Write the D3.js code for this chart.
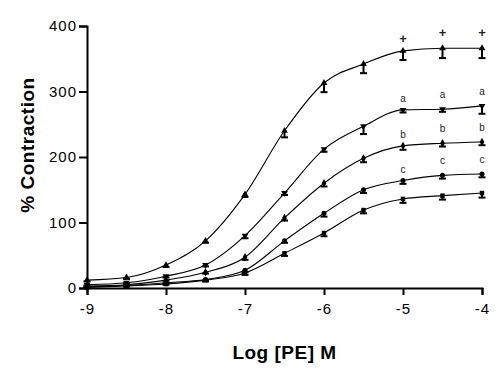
<!DOCTYPE html>
<html>
<head>
<meta charset="utf-8">
<script src="https://cdn.jsdelivr.net/npm/d3@7"></script>
<style>
  body { margin: 0; background: #fff; }
  svg { display: block; }
</style>
</head>
<body>
<div id="chart"></div>
<script>
const width = 500,
    height = 373
const margin = {top: 26, right: 18, bottom: 85, left: 87}

// log concentration of PE
const logDose = [-9, -8.5, -8, -7.5, -7, -6.5, -6, -5.5, -5, -4.5, -4]

// % contraction, mean values
const groupPlus = [12, 16, 35, 72, 143, 240, 313, 342, 362, 366, 366]
const groupA = [5, 8, 18, 35, 80, 145, 212, 247, 272, 273, 278]
const groupB = [3, 5, 12, 24, 47, 107, 160, 198, 217, 221, 223]
const groupC = [2, 4, 8, 13, 27, 72, 114, 150, 164, 172, 174]
const groupD = [1, 3, 6, 12, 23, 53, 84, 119, 136, 141, 145]

// error bars (drawn below the mean)
const semPlus = [2, 2, 3, 3, 4, 10, 14, 14, 14, 15, 15]
const semA = [1, 1, 2, 2, 4, 3, 4, 12, 4, 4, 12]
const semB = [1, 1, 1, 2, 4, 4, 5, 6, 6, 5, 5]
const semC = [1, 1, 1, 2, 3, 3, 5, 5, 5, 5, 5]
const semD = [1, 1, 1, 2, 3, 4, 5, 5, 6, 6, 7]

// significance letters above the last three doses
const letterDose = [-5, -4.5, -4]
const letters = ['+', 'a', 'b', 'c', '']

const xTicks = [-9, -8, -7, -6, -5, -4]
const yTicks = [0, 100, 200, 300, 400]

const series = [
    {mean: groupPlus, sem: semPlus, symbol: d3.symbolTriangle, letter: letters[0]},
    {mean: groupA, sem: semA, symbol: d3.symbolTriangle, flip: true, letter: letters[1]},
    {mean: groupB, sem: semB, symbol: d3.symbolDiamond, letter: letters[2]},
    {mean: groupC, sem: semC, symbol: d3.symbolCircle, letter: letters[3]},
    {mean: groupD, sem: semD, symbol: d3.symbolSquare, letter: letters[4]}
]

const svg = d3.select('#chart')
    .append('svg')
    .attr('width', width)
    .attr('height', height)
    .style('font-family', 'Liberation Sans, Arial, sans-serif')

const x = d3.scaleLinear()
    .domain([-9, -4])
    .range([margin.left, width - margin.right])

const y = d3.scaleLinear()
    .domain([0, 400])
    .range([height - margin.bottom, margin.top])

/**
 * 坐标轴
 */
const xAxis = svg.append('g')
    .attr('transform', 'translate(0,' + y(0) + ')')
    .call(d3.axisBottom(x).tickValues(xTicks).tickSize(7).tickFormat(d => String(d)))
xAxis.select('.domain').attr('stroke-width', 2)
xAxis.selectAll('.tick line').attr('stroke-width', 2)
xAxis.selectAll('text')
    .attr('font-size', 15)
    .attr('letter-spacing', 1)
    .attr('dy', '1.05em')
    .attr('fill', '#000')

const yAxis = svg.append('g')
    .attr('transform', 'translate(' + x(-9) + ',0)')
    .call(d3.axisLeft(y).tickValues(yTicks).tickSize(8).tickPadding(2))
yAxis.select('.domain').attr('stroke-width', 2)
yAxis.selectAll('.tick line').attr('stroke-width', 2)
yAxis.selectAll('text')
    .attr('font-size', 15)
    .attr('letter-spacing', 1)
    .attr('fill', '#000')

svg.append('text')
    .attr('x', x(-6.5))
    .attr('y', 359)
    .attr('text-anchor', 'middle')
    .attr('font-size', 19)
    .attr('font-weight', 'bold')
    .attr('letter-spacing', 0.5)
    .text('Log [PE] M')

svg.append('text')
    .attr('transform', 'translate(34,145) rotate(-90)')
    .attr('text-anchor', 'middle')
    .attr('font-size', 19)
    .attr('font-weight', 'bold')
    .attr('letter-spacing', 0.5)
    .text('% Contraction')

/**
 * 曲线 + 数据点
 */
const line = d3.line()
    .x(d => x(d[0]))
    .y(d => y(d[1]))
    .curve(d3.curveMonotoneX)

const groups = svg.append('g')
    .selectAll('g')
    .data(series)
    .enter().append('g')

groups.append('path')
    .attr('fill', 'none')
    .attr('stroke', '#000')
    .attr('stroke-width', 1.1)
    .attr('d', s => line(logDose.map((d, i) => [d, s.mean[i]])))

const bars = groups.selectAll('.err')
    .data(s => s.mean.map((m, i) => ({x: logDose[i], m: m, e: s.sem[i]})))
    .enter().append('g')
    .attr('class', 'err')
    .attr('stroke', '#000')
    .attr('stroke-width', 2)

bars.append('line')
    .attr('x1', d => x(d.x)).attr('x2', d => x(d.x))
    .attr('y1', d => y(d.m)).attr('y2', d => y(d.m - d.e))
bars.append('line')
    .attr('x1', d => x(d.x) - 3.5).attr('x2', d => x(d.x) + 3.5)
    .attr('y1', d => y(d.m - d.e)).attr('y2', d => y(d.m - d.e))

groups.selectAll('.pt')
    .data(s => s.mean.map((m, i) => ({x: logDose[i], m: m, s: s})))
    .enter().append('path')
    .attr('class', 'pt')
    .attr('fill', '#000')
    .attr('d', d => d3.symbol().type(d.s.symbol).size(20)())
    .attr('transform', d => 'translate(' + x(d.x) + ',' + y(d.m) + ')' + (d.s.flip ? ' rotate(180)' : ''))

// letters
groups.selectAll('.lbl')
    .data(s => s.letter ? letterDose.map(ld => ({x: ld, m: s.mean[logDose.indexOf(ld)], t: s.letter})) : [])
    .enter().append('text')
    .attr('class', 'lbl')
    .attr('x', d => x(d.x))
    .attr('y', d => y(d.m) - (d.x === -5 ? 8 : 11))
    .attr('text-anchor', 'middle')
    .attr('font-size', d => d.t === '+' ? 13 : 10)
    .attr('font-weight', d => d.t === '+' ? 'bold' : 'normal')
    .attr('fill', '#222')
    .text(d => d.t)
</script>
</body>
</html>
